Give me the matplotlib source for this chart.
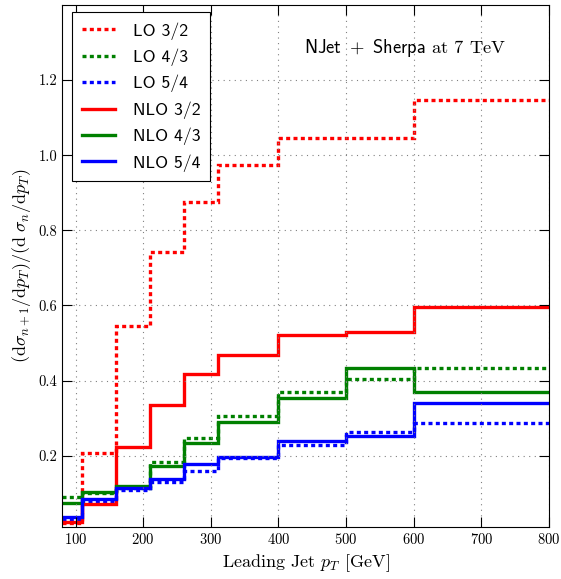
import matplotlib
matplotlib.use("Agg")
import matplotlib.pyplot as plt

plt.rcParams['font.family'] = 'cmr10'
plt.rcParams['mathtext.fontset'] = 'cm'
plt.rcParams['axes.formatter.use_mathtext'] = True

# bin edges in leading jet pT [GeV]
edges = [80, 110, 160, 210, 260, 310, 400, 500, 600, 800]

lo_32 = [0.020, 0.206, 0.544, 0.741, 0.875, 0.975, 1.045, 1.045, 1.148]
lo_43 = [0.090, 0.100, 0.115, 0.182, 0.247, 0.306, 0.369, 0.405, 0.434]
lo_54 = [0.030, 0.080, 0.109, 0.131, 0.158, 0.193, 0.228, 0.264, 0.288]
nlo_32 = [0.022, 0.070, 0.222, 0.335, 0.417, 0.467, 0.520, 0.529, 0.597]
nlo_43 = [0.074, 0.102, 0.118, 0.173, 0.233, 0.290, 0.353, 0.434, 0.370]
nlo_54 = [0.037, 0.085, 0.115, 0.138, 0.178, 0.197, 0.238, 0.251, 0.341]

series = [
    ('LO 3/2', lo_32, 'red', (0, (1.2, 1.0))),
    ('LO 4/3', lo_43, 'green', (0, (1.2, 1.0))),
    ('LO 5/4', lo_54, 'blue', (0, (1.2, 1.0))),
    ('NLO 3/2', nlo_32, 'red', '-'),
    ('NLO 4/3', nlo_43, 'green', '-'),
    ('NLO 5/4', nlo_54, 'blue', '-'),
]

fig = plt.figure(figsize=(5.61, 5.79), dpi=100)
ax = fig.add_axes([0.1105, 0.0898, 0.8681, 0.9016])

for label, vals, color, ls in series:
    ax.stairs(vals, edges, baseline=None, color=color, linestyle=ls,
              linewidth=2.4, label=label)

ax.set_xlim(80, 800)
ax.set_ylim(0.01, 1.4)
ax.set_xticks([100, 200, 300, 400, 500, 600, 700, 800])
ax.set_yticks([0.2, 0.4, 0.6, 0.8, 1.0, 1.2])
ax.set_yticklabels(['0.2', '0.4', '0.6', '0.8', '1.0', '1.2'])
ax.tick_params(direction='in', top=True, right=True, length=7, labelsize=10.5)
ax.grid(True, linestyle=(0, (1, 4)), color='gray', linewidth=0.8)

ax.set_xlabel(r'Leading Jet $p_T$ [GeV]', fontsize=13)
ax.set_ylabel(r'$(\mathrm{d}\sigma_{n+1}/\mathrm{d}p_T)/(\mathrm{d}\ \sigma_n/\mathrm{d}p_T)$',
              fontsize=13)

ax.text(0.705, 0.918, r'$\mathsf{NJet}\ +\ \mathsf{Sherpa}$ at 7 TeV',
        transform=ax.transAxes, ha='center', va='center', fontsize=13.3)

leg = ax.legend(loc='upper left', bbox_to_anchor=(0.02, 0.986), fancybox=False,
                edgecolor='black', framealpha=1, borderaxespad=0,
                prop={'family': 'cmss10', 'size': 12.8}, handlelength=1.9,
                handletextpad=1.0, labelspacing=0.5, borderpad=0.55)
leg.get_frame().set_linewidth(0.8)

fig.savefig('out.png', dpi=100)
